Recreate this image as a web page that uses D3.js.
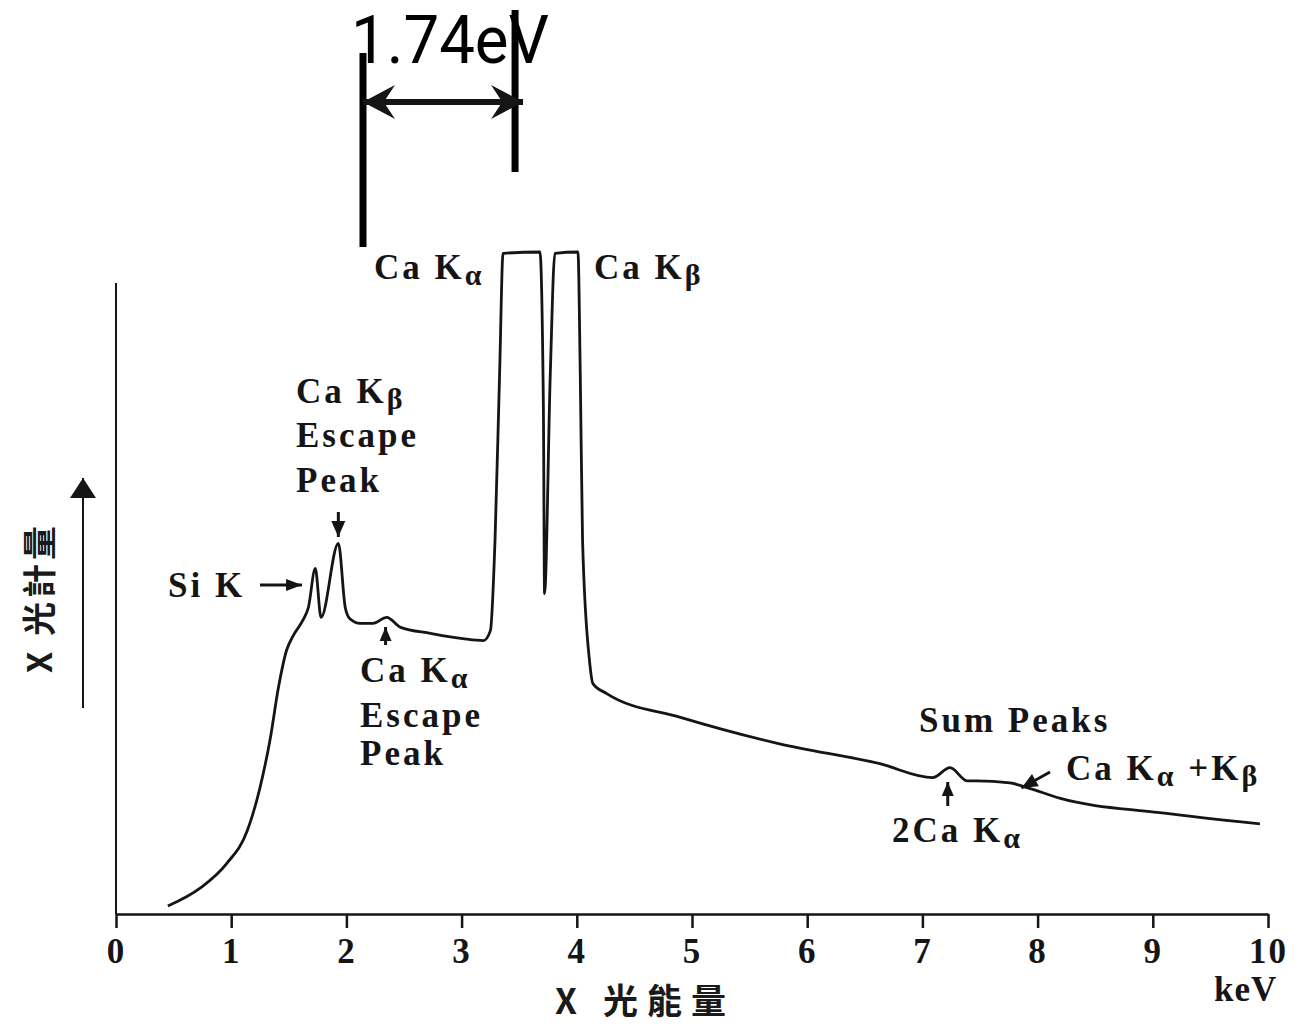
<!DOCTYPE html>
<html>
<head>
<meta charset="utf-8">
<script src="https://cdn.jsdelivr.net/npm/d3@7"></script>
<style>
  body { margin: 0; background: #fff; }
  .lbl { font-family: "Liberation Serif", serif; font-weight: bold; font-size: 35px; letter-spacing: 3px; fill: #151515; }
  .cjk { font-family: "Noto Sans CJK TC", sans-serif; font-weight: bold; font-size: 34px; fill: #1a1a1a; }
  .tick text { font-family: "Liberation Serif", serif; font-weight: bold; font-size: 35px; letter-spacing: 2px; fill: #151515; }
</style>
</head>
<body>
<div id="chart"></div>
<script>
var svgWidth = 1301;
var svgHeight = 1026;

// spectrum (energy in keV, counts in arbitrary units)
var energy = [0.45, 0.73, 0.96, 1.14, 1.25, 1.34, 1.41, 1.48, 1.54, 1.62,
	1.67, 1.73, 1.78, 1.93, 1.99, 2.03, 2.12, 2.23, 2.35, 2.47,
	2.73, 3.01, 3.19, 3.25, 3.29, 3.33, 3.36, 3.68, 3.71, 3.72,
	3.77, 3.81, 4.01, 4.03, 4.05, 4.11, 4.14, 4.26, 4.90, 5.76,
	6.63, 7.09, 7.24, 7.39, 7.47, 7.76, 7.91, 8.19, 9.06, 9.93];
var counts = [1.2, 3.9, 7.6, 12.6, 19.1, 26.6, 34.2, 39.8, 42.1, 44.3,
	46.3, 52.2, 44.8, 56.0, 46.3, 44.6, 43.9, 43.9, 44.8, 43.3,
	42.4, 41.6, 41.3, 42.8, 56.4, 81.7, 99.8, 100, 76.6, 48.4,
	81.7, 99.8, 100, 81.7, 56.4, 38.3, 34.8, 33.3, 29.7, 25.7,
	22.7, 20.6, 22.1, 20.1, 20.1, 19.8, 19.1, 17.5, 15.3, 13.6];
var tickValues = [0, 1, 2, 3, 4, 5, 6, 7, 8, 9, 10];
var yAxisTop = 95.3;

var margin = { left: 116, right: 33, top: 252, bottom: 112 };
var width = svgWidth - margin.left - margin.right;
var height = svgHeight - margin.top - margin.bottom;

var svg = d3.select("#chart")
	.append("svg")
	.attr("width", svgWidth)
	.attr("height", svgHeight);

var chartGroup = svg.append("g")
	.attr("transform", `translate(${margin.left}, ${margin.top})`);

var x = d3.scaleLinear().domain([0, 10]).range([0, width]);
var y = d3.scaleLinear().domain([0, 100]).range([height, 0]);

// axes
var bottomAxis = d3.axisBottom(x)
	.tickValues(tickValues)
	.tickSize(14)
	.tickSizeOuter(0)
	.tickPadding(10);

var xAxis = chartGroup.append("g")
	.attr("transform", `translate(0, ${height})`)
	.call(bottomAxis);
xAxis.select(".domain").attr("stroke", "#151515").attr("stroke-width", 2.5);
xAxis.selectAll(".tick line").attr("stroke", "#151515").attr("stroke-width", 2.5);

chartGroup.append("line")
	.attr("x1", 0).attr("x2", 0)
	.attr("y1", y(0)).attr("y2", y(yAxisTop))
	.attr("stroke", "#151515")
	.attr("stroke-width", 2);

// spectrum
var line = d3.line()
	.x((d, i) => x(energy[i]))
	.y(d => y(d))
	.curve(d3.curveMonotoneX);

chartGroup.append("path")
	.datum(counts)
	.attr("d", line)
	.attr("fill", "none")
	.attr("stroke", "#151515")
	.attr("stroke-width", 2.8)
	.attr("stroke-linejoin", "round");

// helpers
function arrow(g, x1, y1, x2, y2, len, half, w, notch) {
	g.append("line")
		.attr("x1", x1).attr("y1", y1).attr("x2", x2).attr("y2", y2)
		.attr("stroke", "#151515").attr("stroke-width", w);
	var a = Math.atan2(y2 - y1, x2 - x1);
	var c = Math.cos(a), s = Math.sin(a);
	var bx = x2 - len * c, by = y2 - len * s;
	var nx = x2 - len * (1 - (notch || 0)) * c, ny = y2 - len * (1 - (notch || 0)) * s;
	var px = -s * half, py = c * half;
	g.append("path")
		.attr("d", `M${x2},${y2}L${bx + px},${by + py}L${nx},${ny}L${bx - px},${by - py}Z`)
		.attr("fill", "#151515");
}

function label(x0, y0, main, sub, rest) {
	var t = svg.append("text").attr("class", "lbl").attr("x", x0).attr("y", y0).text(main);
	if (sub) {
		t.append("tspan").attr("dy", 6).style("font-size", "30px").text(sub);
		if (rest) {
			t.append("tspan").attr("dy", -6).text(rest[0]);
			t.append("tspan").attr("dy", 6).style("font-size", "30px").text(rest[1]);
		}
	}
	return t;
}

var X = e => margin.left + x(e);

// peak labels
label(374, 279, "Ca K", "α");
label(594, 279, "Ca K", "β");
label(296, 403, "Ca K", "β");
label(296, 447, "Escape");
label(296, 492, "Peak");
label(168, 597, "Si K");
label(360, 682, "Ca K", "α");
label(360, 727, "Escape");
label(360, 765, "Peak");
label(919, 732, "Sum Peaks");
label(892, 842, "2Ca K", "α");
label(1066, 780, "Ca K", "α", [" +K", "β"]);

// pointers
arrow(svg, 260, 585, X(1.615), 585, 16, 6, 3);
arrow(svg, X(1.93), 512, X(1.93), 537, 16, 7, 3);
arrow(svg, X(2.34), 645, X(2.34), 627, 14, 6, 3);
arrow(svg, X(7.22), 806, X(7.22), 782, 14, 6, 3);
arrow(svg, 1050, 772, X(7.86), 788, 16, 7, 3);

// y label with upward arrow
arrow(svg, 83, 708, 83, 478, 20, 13, 2);
svg.append("text")
	.attr("class", "cjk")
	.attr("transform", "translate(52, 673) rotate(-90)")
	.style("letter-spacing", "4px")
	.text("X 光計量");

// x label
svg.append("text")
	.attr("class", "cjk")
	.attr("x", 555).attr("y", 1014)
	.style("font-size", "35px")
	.style("letter-spacing", "9px")
	.text("X 光能量");
svg.append("text")
	.attr("class", "lbl")
	.attr("x", 1214).attr("y", 1001)
	.style("letter-spacing", "1px")
	.text("keV");

// 1.74eV resolution marker
var left = X(2.144), right = X(3.464);
svg.append("line").attr("x1", left).attr("x2", left).attr("y1", 53).attr("y2", 247)
	.attr("stroke", "#000").attr("stroke-width", 7);
svg.append("line").attr("x1", right).attr("x2", right).attr("y1", 10).attr("y2", 172)
	.attr("stroke", "#000").attr("stroke-width", 7);
arrow(svg, left + 20, 102, right + 8, 102, 32, 17, 6, 0.35);
arrow(svg, right - 20, 102, left, 102, 32, 17, 6, 0.35);
svg.append("text")
	.attr("x", 351).attr("y", 63)
	.attr("textLength", 198)
	.attr("lengthAdjust", "spacingAndGlyphs")
	.style("font-family", "Roboto, sans-serif")
	.style("font-size", "66px")
	.style("fill", "#000")
	.text("1.74eV");
</script>
</body>
</html>
